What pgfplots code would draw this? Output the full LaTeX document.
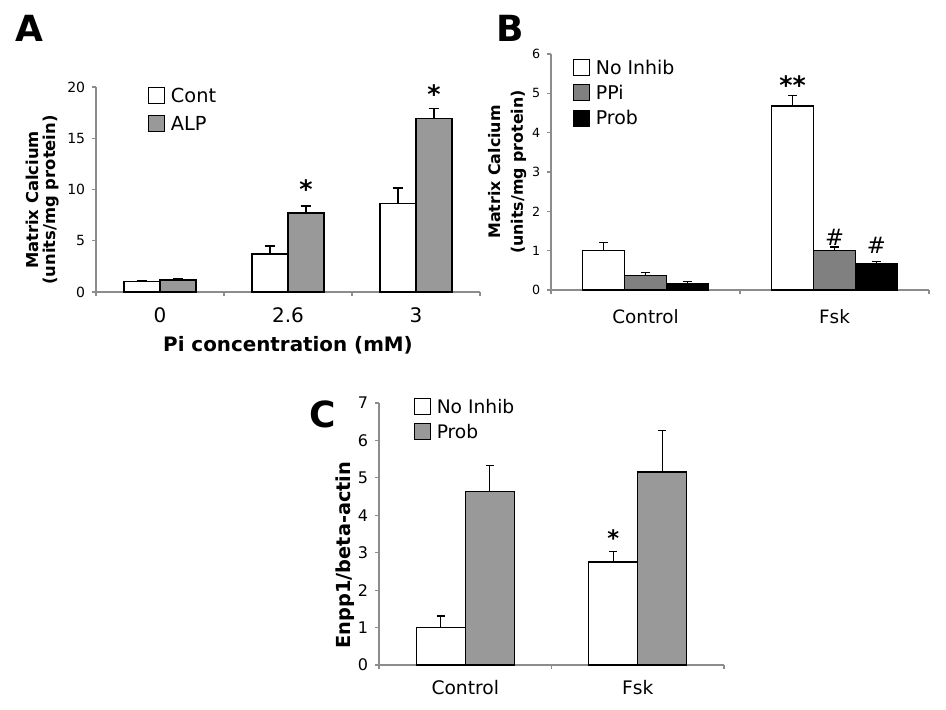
\documentclass[border=0pt]{standalone}
\usepackage{fontspec}
\setmainfont{DejaVu Sans}
\usepackage{pgfplots}
\pgfplotsset{compat=1.18}

\definecolor{axgray}{gray}{0.55}
\definecolor{lightbar}{gray}{0.6}
\definecolor{midbar}{gray}{0.5}

\pgfplotsset{
  panel/.style={
    scale only axis, clip=false,
    axis x line*=bottom, axis y line*=left,
    axis line style={axgray, line width=0.9pt},
    ymin=0, enlargelimits=false,
    tick align=outside, major tick length=3pt,
    tick style={axgray, line width=0.8pt},
    x tick label as interval,
    ybar=0pt,
    /pgf/number format/assume math mode=true,
    yticklabel style={anchor=east, inner sep=0pt, xshift=-5pt},
    legend cell align=left,
    legend style={draw=none, fill=none, anchor=north west, inner sep=0pt,
      nodes={inner sep=0pt}, column sep=4.5pt},
    legend image code/.code={\draw[#1, draw=black, line width=0.5pt] (0pt,-5.5pt) rectangle (12pt,6.5pt);},
    error bars/y dir=plus, error bars/y explicit,
    error bars/error bar style={black, line width=1.1pt},
    every axis plot/.append style={draw=black, line width=1.1pt},
  },
}

\begin{document}
\begin{tikzpicture}
\path[use as bounding box] (0,0) rectangle (709.5pt,-532.5pt);

% panel A
\begin{axis}[panel, at={(72pt,-219pt)}, anchor=south west,
    width=288pt, height=153.75pt,
    xmin=-0.5, xmax=2.5, ymax=20, ytick={0,5,10,15,20},
    xtick={-0.5,0.5,1.5,2.5}, xticklabels={0,2.6,3},
    bar width=27pt,
    yticklabel style={font=\fontsize{10.5}{12}\selectfont},
    xticklabel style={font=\fontsize{15}{17}\selectfont, anchor=base, yshift=-20pt},
    xlabel={Pi concentration (mM)},
    xlabel style={font=\bfseries\fontsize{14.9}{17}\selectfont, at={(rel axis cs:0.5,-0.26)}, anchor=center},
    ylabel={Matrix Calcium\\(units/mg protein)},
    ylabel style={font=\bfseries\fontsize{12.3}{12.75}\selectfont, align=center, at={(rel axis cs:-0.138,0.449)}, anchor=center},
    legend style={at={(rel axis cs:0.1354,1.0)}, font=\fontsize{14.5}{16}\selectfont, row sep=8pt},
    error bars/error mark options={rotate=90, mark size=4pt, line width=1.1pt},
  ]
\addplot[fill=white] coordinates {(0,1.0) +- (0,0.07) (1,3.7) +- (0,0.78) (2,8.64) +- (0,1.5)};
\addplot[fill=lightbar] coordinates {(0,1.17) +- (0,0.13) (1,7.73) +- (0,0.68) (2,16.95) +- (0,0.95)};
\legend{Cont,ALP}
\node[font=\bfseries\fontsize{19}{20}\selectfont, yshift=-4.5pt] at (axis cs:1.14,10.6) {*};
\node[font=\bfseries\fontsize{19}{20}\selectfont, yshift=-4.5pt] at (axis cs:2.14,19.9) {*};
\end{axis}

% panel B
\begin{axis}[panel, at={(413.25pt,-217.5pt)}, anchor=south west,
    width=283.5pt, height=177pt,
    xmin=-0.5, xmax=1.5, ymax=6, ytick={0,1,...,6},
    xtick={-0.5,0.5,1.5}, xticklabels={Control,Fsk},
    bar width=31.5pt,
    yticklabel style={font=\fontsize{9.5}{11}\selectfont},
    xticklabel style={font=\fontsize{13.8}{16}\selectfont, anchor=base, yshift=-22pt},
    ylabel={Matrix Calcium\\(units/mg protein)},
    ylabel style={font=\bfseries\fontsize{11.9}{17}\selectfont, align=center, at={(rel axis cs:-0.116,0.5)}, anchor=center},
    legend style={at={(rel axis cs:0.058,0.979)}, font=\fontsize{14.2}{16}\selectfont, row sep=6pt},
    error bars/error mark options={rotate=90, mark size=3.4pt, line width=1.1pt},
  ]
\addplot[fill=white] coordinates {(0,1.0) +- (0,0.21) (1,4.68) +- (0,0.26)};
\addplot[fill=midbar] coordinates {(0,0.37) +- (0,0.08) (1,1.01) +- (0,0.08)};
\addplot[fill=black] coordinates {(0,0.15) +- (0,0.06) (1,0.67) +- (0,0.06)};
\legend{No Inhib,PPi,Prob}
\node[font=\bfseries\fontsize{19}{20}\selectfont, yshift=-4.5pt] at (axis cs:0.778,5.36) {**};
\node[font=\fontsize{17}{18}\selectfont] at (axis cs:1.0,1.35) {\#};
\node[font=\fontsize{17}{18}\selectfont] at (axis cs:1.222,1.14) {\#};
\end{axis}

% panel C
\begin{axis}[panel, at={(284.25pt,-498.75pt)}, anchor=south west,
    width=258.75pt, height=196.5pt,
    xmin=-0.5, xmax=1.5, ymax=7, ytick={0,1,...,7},
    xtick={-0.5,0.5,1.5}, xticklabels={Control,Fsk},
    bar width=36.75pt,
    yticklabel style={font=\fontsize{12}{13}\selectfont},
    xticklabel style={font=\fontsize{14}{16}\selectfont, anchor=base, yshift=-19pt},
    ylabel={Enpp1/beta-actin},
    ylabel style={font=\bfseries\fontsize{14.5}{16}\selectfont, at={(rel axis cs:-0.099,0.42)}, anchor=center},
    legend style={at={(rel axis cs:0.101,1.019)}, font=\fontsize{14}{16}\selectfont, row sep=6pt},
    error bars/error mark options={rotate=90, mark size=3pt, line width=1.1pt},
  ]
\addplot[fill=white] coordinates {(0,1.0) +- (0,0.31) (1,2.75) +- (0,0.28)};
\addplot[fill=lightbar] coordinates {(0,4.63) +- (0,0.7) (1,5.16) +- (0,1.11)};
\legend{No Inhib,Prob}
\node[font=\bfseries\fontsize{17}{18}\selectfont, yshift=-4pt] at (axis cs:0.858,3.53) {*};
\end{axis}

\node[font=\bfseries\fontsize{27}{30}\selectfont] at (21.75pt,-21pt) {A};
\node[font=\bfseries\fontsize{27}{30}\selectfont] at (382.5pt,-21pt) {B};
\node[font=\bfseries\fontsize{27}{30}\selectfont] at (242.25pt,-310.5pt) {C};
\end{tikzpicture}
\end{document}
